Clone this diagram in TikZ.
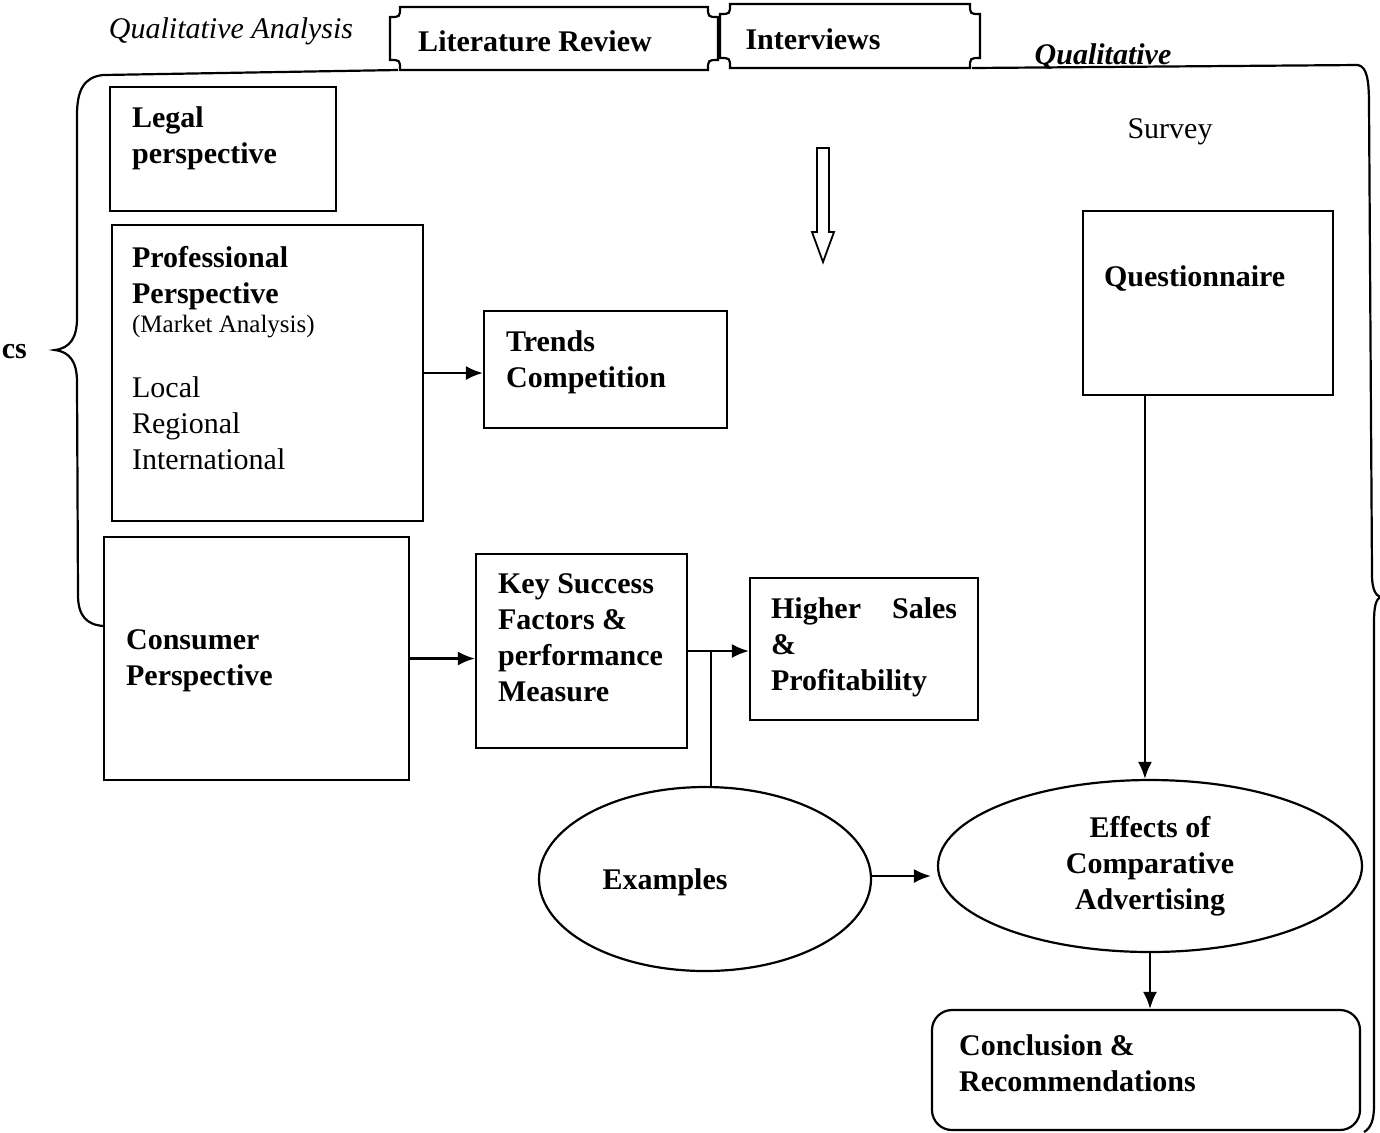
\documentclass[tikz,border=0pt]{standalone}
\usepackage{fontspec}
\setmainfont{Liberation Serif}
\usetikzlibrary{arrows.meta,fit,calc,shapes.geometric}
\newcommand\plaquebox[4]{\draw ({#1+10},#2) -- ({#3-10},#2) .. controls ({#3-10},{#2+10}) .. (#3,{#2+10}) -- (#3,{#4-10}) .. controls ({#3-10},{#4-10}) .. ({#3-10},#4) -- ({#1+10},#4) .. controls ({#1+10},{#4-10}) .. (#1,{#4-10}) -- (#1,{#2+10}) .. controls ({#1+10},{#2+10}) .. ({#1+10},#2) -- cycle;}
\begin{document}
\begin{tikzpicture}[x=0.5pt,y=-0.5pt,
  line width=1.1pt,
  box/.style={draw, rectangle, inner sep=0pt},
  bt/.style={font=\fontsize{15}{18}\selectfont\bfseries, align=left, inner sep=0pt, anchor=north west},
  rt/.style={font=\fontsize{15}{18}\selectfont, align=left, inner sep=0pt, anchor=north west},
  lbl/.style={font=\fontsize{15}{18}\selectfont, inner sep=0pt, anchor=base},
  arr/.style={-{Latex[length=8.5pt,width=7pt]}},
]
\useasboundingbox (0,0) rectangle (1380,1132);

% header texts and plaques
\node[lbl, font=\fontsize{15}{18}\selectfont\itshape] (qa) at (231,38) {Qualitative Analysis};
\plaquebox{390}{7}{718}{70}
\plaquebox{720}{4}{980}{68}
\node[lbl, font=\fontsize{15}{18}\selectfont\bfseries] (lit) at (535,51) {Literature Review};
\node[lbl, font=\fontsize{15}{18}\selectfont\bfseries] (int) at (813,49) {Interviews};
\node[lbl, font=\fontsize{15}{18}\selectfont\bfseries\itshape] (qual) at (1103,64) {Qualitative};
\node[lbl] (survey) at (1170,138) {Survey};
\node[lbl, font=\fontsize{15}{18}\selectfont\bfseries, anchor=base east] (cs) at (28,358) {cs};

% frame with braces
\draw (398,70) -- (103,75) .. controls (84,77) and (77,90) .. (77,115) -- (77,318) .. controls (77,338) and (70,348) .. (55,350) .. controls (70,352) and (77,362) .. (77,382) -- (78,595) .. controls (78,615) and (86,625) .. (104,626);
\draw (972,68) -- (1358,65) .. controls (1367,67) and (1369,80) .. (1369,105) -- (1372,575) .. controls (1372,590) and (1376,595) .. (1380,597) .. controls (1376,600) and (1374,606) .. (1374,622) -- (1374,1105) .. controls (1374,1120) and (1371,1128) .. (1364,1132);

% hollow arrow
\draw[line width=0.9pt] (817,148) -- (829,148) -- (829,232) -- (834,232) -- (823,262) -- (812,232) -- (817,232) -- cycle;

% boxes
\node[box, fit={(110,87) (336,211)}] (legal) {};
\node[box, fit={(112,225) (423,521)}] (prof) {};
\node[box, fit={(484,311) (727,428)}] (trends) {};
\node[box, fit={(104,537) (409,780)}] (consumer) {};
\node[box, fit={(476,554) (687,748)}] (key) {};
\node[box, fit={(750,578) (978,720)}] (higher) {};
\node[box, fit={(1083,211) (1333,395)}] (quest) {};
\node[box, rounded corners=10pt, fit={(932,1010) (1360,1130)}] (concl) {};
\node[draw, ellipse, minimum width=166pt, minimum height=92pt, inner sep=0pt] (examples) at (705,879) {};
\node[draw, ellipse, minimum width=212pt, minimum height=86pt, inner sep=0pt, align=center, font=\fontsize{15}{18}\selectfont\bfseries] (effects) at (1150,866) {Effects of\\Comparative\\Advertising};

% box texts
\node[bt] (tlegal) at (131,106) {Legal\\perspective};
\node[bt] (tprof) at (131,245) {Professional\\Perspective};
\node[rt, font=\fontsize{12.5}{15}\selectfont] (tmarket) at (131,314) {(Market Analysis)};
\node[rt] (tloc) at (131,376) {Local\\Regional\\International};
\node[bt] (ttrends) at (505,330) {Trends\\Competition};
\node[bt] (tcons) at (125,629) {Consumer\\Perspective};
\node[bt] (tkey) at (497,573) {Key Success\\Factors \&\\performance\\Measure};
\node[bt] (thigher) at (770,597) {\makebox[93pt][s]{Higher Sales}\\\&\\Profitability};
\node[bt] (tquest) at (1103,265) {Questionnaire};
\node[bt] (tconcl) at (958,1034) {Conclusion \&\\Recommendations};
\node[lbl, font=\fontsize{15}{18}\selectfont\bfseries] (texamples) at (665,889) {Examples};

% connectors
\coordinate (pt) at (423,373);
\draw[arr] (pt) -- (pt -| trends.west);
\draw[arr] (consumer.east) -- (consumer.east -| key.west);
\draw[arr] (key.east) -- (key.east -| higher.west);
\coordinate (br) at (711,651);
\draw (br) -- (br |- examples.north);
\coordinate (ex) at (871,876);
\draw[arr, shorten >=3pt] (ex) -- (ex -| effects.west);
\coordinate (qs) at ($(quest.south west)!0.25!(quest.south east)$);
\draw[arr] (qs) -- (qs |- effects.north);
\draw[arr] (effects.south) -- (effects.south |- concl.north);
\end{tikzpicture}
\end{document}
